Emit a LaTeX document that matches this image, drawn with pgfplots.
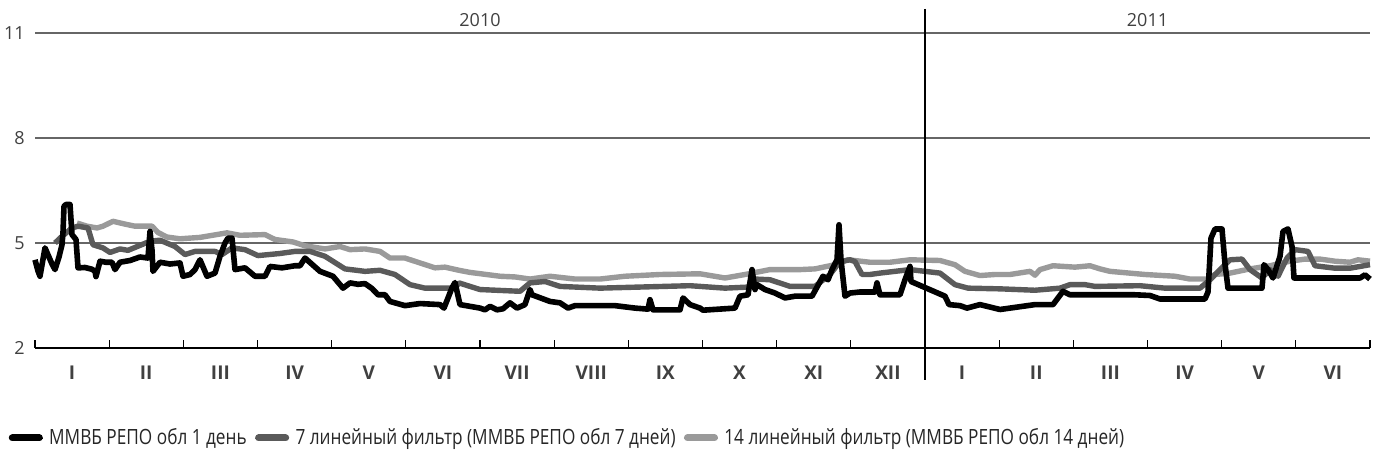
\documentclass[border=0pt]{standalone}
\usepackage{fontspec}
\setmainfont{Open Sans}
\newfontfamily\legfont[FakeStretch=0.82]{Open Sans}
\usepackage{pgfplots}
\pgfplotsset{compat=1.18}
\definecolor{dgray}{HTML}{5A5A5A}
\definecolor{lgray}{HTML}{9A9A9A}
\definecolor{txt}{HTML}{404040}
\begin{document}
\begin{tikzpicture}
\useasboundingbox (-17.5pt,-55pt) rectangle (669pt,174pt);
\begin{axis}[
 scale only axis, width=667.5pt, height=157.5pt,
 xmin=35, xmax=1370, ymin=2, ymax=11,
 clip=false,
 axis x line=bottom, axis y line=left,
 axis line style={-},
 y axis line style={draw=none},
 x axis line style={black, line width=0.8pt},
 ytick={2,5,8,11},
 ymajorgrids, major grid style={black!60, line width=0.8pt},
 ytick style={draw=none},
 yticklabel style={font=\fontsize{9}{11}\selectfont, text=txt, inner sep=0pt, xshift=-5pt},
 xtick={35,109.17,183.33,257.5,331.67,405.83,480,554.17,628.33,702.5,776.67,850.83,925,999.17,1073.33,1147.5,1221.67,1295.83,1370},
 xticklabels={},
 tick align=inside,
 xtick style={black, line width=0.6pt},
 major tick length=4pt,
 extra x ticks={72.08,146.25,220.42,294.58,368.75,442.92,517.08,591.25,665.42,739.58,813.75,887.92,962.08,1036.25,1110.42,1184.58,1258.75,1332.92},
 extra x tick labels={I,II,III,IV,V,VI,VII,VIII,IX,X,XI,XII,I,II,III,IV,V,VI},
 extra x tick style={major tick length=0pt, xticklabel style={font=\bfseries\fontsize{9.5}{11}\selectfont, text=txt, inner sep=0pt, yshift=-9pt}},
 /pgf/number format/assume math mode=true,
 legend columns=3,
 legend style={at={(axis cs:8,2)}, anchor=west, yshift=-45pt, draw=none, fill=none, inner sep=0pt,
   font=\legfont\fontsize{10.5}{12}\selectfont, text=black!85, column sep=3pt, nodes={inner sep=0pt},
   /tikz/every even column/.append style={column sep=4pt}},
 legend image code/.code={\path (0pt,0pt) -- (17pt,0pt); \draw[#1, line width=3.5pt, line cap=round] (1.75pt,0pt) -- (15.25pt,0pt);},
 every axis plot/.append style={line join=round},
]
% 14-day filter
\addplot[lgray, line width=2.7pt, forget plot] coordinates {
(77,5.57) (87,5.48) (97,5.43) (103,5.48) (113,5.62) (125,5.54) (135,5.48) (152,5.48) (158,5.3) (167,5.17) (180,5.12) (200,5.16) (227,5.29) (240,5.22) (265,5.24) (275,5.1) (293,5.03) (305,4.92) (325,4.83) (340,4.9) (350,4.81) (365,4.83) (380,4.76) (390,4.57) (405,4.57) (420,4.43) (435,4.29) (445,4.31) (459,4.22) (470,4.16) (500,4.05) (515,4.03) (530,3.97) (550,4.05) (575,3.97) (600,3.97) (625,4.05) (660,4.1) (700,4.12) (725,4.0) (745,4.1) (770,4.24) (800,4.24) (815,4.26) (835,4.38) (848,4.52) (870,4.45) (890,4.45) (910,4.52) (940,4.5) (955,4.38) (965,4.19) (980,4.07) (995,4.1) (1010,4.1) (1030,4.19) (1035,4.08) (1040,4.24) (1053,4.35) (1075,4.31) (1090,4.35) (1100,4.26) (1110,4.19) (1145,4.1) (1175,4.05) (1190,3.97) (1207,3.97) (1215,4.1) (1230,4.14) (1250,4.26) (1270,4.35) (1290,4.48) (1305,4.54) (1320,4.54) (1335,4.48) (1350,4.45) (1358,4.52) (1370,4.48)
};
% 7-day filter
\addplot[dgray, line width=2.7pt, forget plot] coordinates {
(55,5.0) (62,5.19) (72,5.43) (78,5.48) (88,5.43) (93,4.95) (103,4.86) (110,4.73) (120,4.83) (128,4.79) (150,5.05) (160,5.08) (175,4.9) (185,4.67) (195,4.76) (215,4.76) (222,4.67) (232,4.86) (245,4.81) (258,4.64) (280,4.7) (295,4.76) (310,4.76) (325,4.62) (345,4.26) (365,4.19) (380,4.22) (395,4.1) (410,3.81) (425,3.71) (455,3.71) (459,3.86) (470,3.76) (480,3.67) (520,3.62) (530,3.86) (545,3.9) (560,3.76) (600,3.71) (690,3.78) (725,3.71) (748,3.74) (755,3.97) (770,3.95) (790,3.76) (815,3.76) (830,4.1) (840,4.47) (850,4.52) (855,4.47) (862,4.1) (870,4.1) (880,4.14) (910,4.24) (940,4.14) (955,3.81) (968,3.71) (1000,3.69) (1035,3.65) (1060,3.71) (1070,3.81) (1085,3.81) (1095,3.76) (1140,3.78) (1165,3.71) (1200,3.71) (1210,3.95) (1220,4.24) (1230,4.52) (1242,4.54) (1250,4.24) (1262,4.0) (1270,4.24) (1278,4.05) (1287,4.57) (1295,4.81) (1308,4.76) (1315,4.35) (1335,4.28) (1350,4.28) (1370,4.38)
};
% 1 day
\addplot[black, line width=2.8pt, forget plot] coordinates {
(35,4.52) (38,4.2) (40,4.05) (45,4.86) (52,4.4) (55,4.24) (59,4.6) (62,4.95) (63,5.3) (64,6.05) (66,6.1) (70,6.1) (72,5.24) (76,5.1) (78,4.29) (85,4.3) (92,4.25) (95,4.19) (96,4.04) (100,4.48) (106,4.45) (112,4.45) (115,4.24) (120,4.45) (130,4.5) (140,4.6) (148,4.57) (150,5.33) (152,4.8) (153,4.19) (160,4.45) (170,4.4) (180,4.43) (183,4.05) (190,4.1) (195,4.24) (200,4.52) (207,4.05) (215,4.14) (220,4.62) (225,5.0) (228,5.14) (232,5.14) (235,4.24) (245,4.29) (255,4.05) (265,4.05) (270,4.33) (282,4.29) (295,4.35) (300,4.35) (305,4.57) (320,4.19) (333,4.05) (343,3.71) (350,3.86) (358,3.82) (365,3.84) (372,3.7) (378,3.52) (385,3.52) (390,3.33) (405,3.21) (420,3.27) (440,3.24) (444,3.14) (452,3.72) (455,3.87) (460,3.24) (480,3.14) (485,3.09) (490,3.19) (497,3.09) (503,3.12) (510,3.29) (517,3.14) (525,3.24) (530,3.67) (532,3.52) (550,3.33) (560,3.29) (568,3.14) (575,3.21) (615,3.21) (635,3.14) (648,3.11) (650,3.38) (653,3.09) (680,3.09) (683,3.43) (690,3.24) (700,3.14) (703,3.08) (735,3.14) (740,3.48) (748,3.52) (752,4.24) (755,3.67) (757,3.81) (765,3.67) (775,3.57) (785,3.43) (795,3.48) (812,3.48) (823,4.05) (828,3.95) (832,4.24) (837,4.52) (839,5.52) (841,4.52) (845,3.48) (850,3.57) (860,3.6) (875,3.6) (877,3.86) (880,3.52) (900,3.52) (905,3.95) (910,4.33) (911,3.9) (945,3.48) (949,3.24) (960,3.21) (967,3.14) (980,3.24) (1000,3.1) (1035,3.24) (1053,3.24) (1063,3.62) (1070,3.52) (1135,3.52) (1150,3.5) (1160,3.4) (1205,3.4) (1208,3.6) (1211,5.14) (1215,5.4) (1222,5.4) (1225,4.4) (1228,3.71) (1262,3.71) (1264,4.38) (1268,4.24) (1273,4.0) (1280,4.62) (1283,5.33) (1288,5.4) (1292,4.9) (1294,4.0) (1360,4.0) (1365,4.09) (1370,3.97)
};
\addlegendimage{black}
\addlegendentry{ММВБ РЕПО обл 1 день}
\addlegendimage{dgray}
\addlegendentry{7 линейный фильтр (ММВБ РЕПО обл 7 дней)}
\addlegendimage{lgray}
\addlegendentry{14 линейный фильтр (ММВБ РЕПО обл 14 дней)}
\draw[black, line width=0.6pt] (axis cs:925,11.69) -- (axis cs:925,1.09);
\node[font=\fontsize{9}{11}\selectfont, text=txt] at (axis cs:480,11.37) {2010};
\node[font=\fontsize{9}{11}\selectfont, text=txt] at (axis cs:1147.5,11.37) {2011};
\end{axis}
\end{tikzpicture}
\end{document}
